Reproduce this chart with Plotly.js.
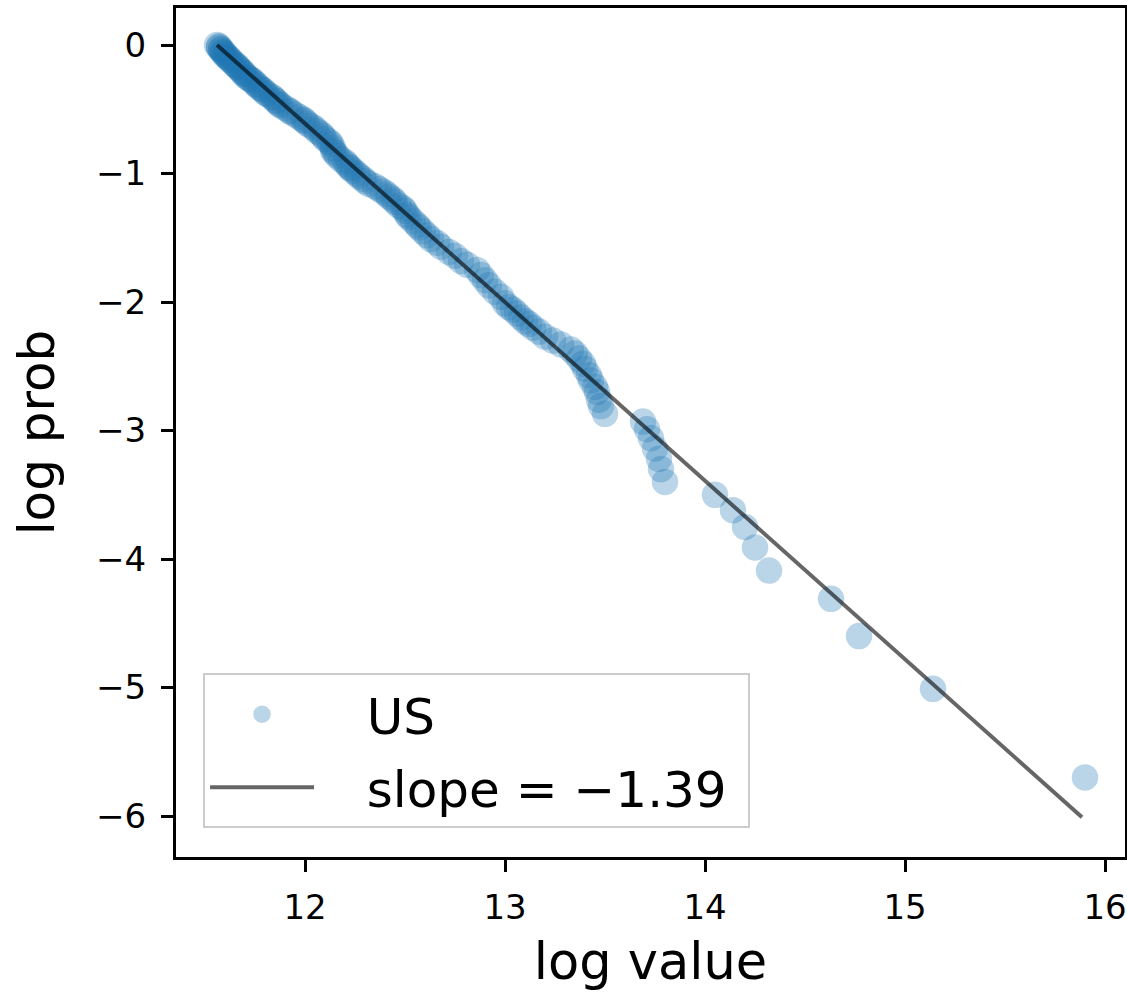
<!DOCTYPE html>
<html>
<head>
<meta charset="utf-8">
<script src="https://cdn.plot.ly/plotly-3.0.1.min.js"></script>
<style>
  html, body { margin: 0; padding: 0; background: #ffffff; }
  #chart { width: 1127px; height: 995px; }
</style>
</head>
<body>
<div id="chart"></div>
<script>
// Tail points (log value vs log complementary probability)
const usLogValue = [
  15.90, 15.14, 14.77, 14.63, 14.32, 14.25, 14.20, 14.14, 14.05,
  13.80, 13.78, 13.77, 13.75, 13.73, 13.71, 13.69,
  13.50, 13.48, 13.47, 13.46, 13.45, 13.43, 13.42, 13.40, 13.39, 13.37, 13.35, 13.33,
  13.28, 13.24, 13.20, 13.17, 13.14, 13.12, 13.10, 13.08, 13.06, 13.04, 13.02, 13.00,
  12.98, 12.95, 12.92, 12.90, 12.88, 12.86, 12.81, 12.78, 12.75, 12.72,
  12.68, 12.66, 12.63, 12.61, 12.59, 12.57, 12.56, 12.54, 12.52, 12.51,
  12.50, 12.49, 12.47, 12.45, 12.44, 12.42, 12.41, 12.39, 12.37, 12.35,
  12.32, 12.30, 12.29, 12.27, 12.26, 12.24, 12.23, 12.22, 12.21, 12.20,
  12.18, 12.16, 12.15, 12.14, 12.14, 12.13, 12.12, 12.10, 12.09, 12.08,
  12.06, 12.05, 12.03, 12.01, 12.00, 11.99, 11.97, 11.95, 11.93, 11.92,
  11.90, 11.88, 11.87, 11.86, 11.85, 11.84, 11.83, 11.81, 11.80, 11.79,
  11.78, 11.77, 11.76, 11.75, 11.74, 11.73, 11.72, 11.71, 11.70, 11.69,
  11.69, 11.68, 11.67, 11.66, 11.66, 11.65, 11.64, 11.63, 11.62, 11.62,
  11.61, 11.60, 11.60, 11.59, 11.59, 11.58, 11.58, 11.57, 11.57, 11.56
];
const usLogProb = [
  -5.70, -5.01, -4.60, -4.31, -4.09, -3.91, -3.75, -3.62, -3.50,
  -3.40, -3.30, -3.22, -3.14, -3.06, -2.99, -2.93,
  -2.87, -2.81, -2.76, -2.70, -2.66, -2.61, -2.57, -2.52, -2.48, -2.44, -2.40, -2.37,
  -2.33, -2.30, -2.27, -2.23, -2.20, -2.17, -2.15, -2.12, -2.09, -2.06, -2.04, -2.01,
  -1.96, -1.92, -1.87, -1.83, -1.79, -1.75, -1.71, -1.68, -1.64, -1.61,
  -1.57, -1.54, -1.51, -1.48, -1.45, -1.42, -1.40, -1.37, -1.34, -1.32,
  -1.29, -1.27, -1.25, -1.22, -1.20, -1.18, -1.16, -1.14, -1.12, -1.10,
  -1.08, -1.06, -1.04, -1.02, -1.00, -0.98, -0.96, -0.95, -0.93, -0.91,
  -0.89, -0.86, -0.84, -0.82, -0.80, -0.77, -0.75, -0.73, -0.71, -0.69,
  -0.67, -0.65, -0.63, -0.61, -0.59, -0.58, -0.56, -0.54, -0.52, -0.51,
  -0.49, -0.47, -0.46, -0.44, -0.43, -0.41, -0.40, -0.38, -0.37, -0.35,
  -0.34, -0.33, -0.31, -0.30, -0.28, -0.27, -0.26, -0.25, -0.23, -0.22,
  -0.21, -0.20, -0.18, -0.17, -0.16, -0.15, -0.14, -0.12, -0.11, -0.10,
  -0.09, -0.08, -0.07, -0.06, -0.05, -0.04, -0.03, -0.02, -0.01, 0.00
];

// Fitted line endpoints
const fitLogValue = [11.56, 15.885];
const fitLogProb = [0.00, -6.01];

const seriesName = "US";
const fitName = "slope = \u22121.39";
const xTickVals = [12, 13, 14, 15, 16];
const yTickVals = [-6, -5, -4, -3, -2, -1, 0];

const FONT = "DejaVu Sans, Liberation Sans, sans-serif";
const PAD = "\u00a0\u00a0\u00a0";

const traces = [
  {
    type: "scatter",
    mode: "markers",
    x: usLogValue,
    y: usLogProb,
    name: PAD + seriesName,
    legendgroup: "a",
    marker: {
      color: "#1f77b4",
      size: 25,
      opacity: 0.3,
      line: { color: "#1f77b4", width: 1.5 }
    },
    hoverinfo: "x+y"
  },
  {
    type: "scatter",
    mode: "lines",
    x: fitLogValue,
    y: fitLogProb,
    name: PAD + fitName + "\u00a0",
    legendgroup: "b",
    line: { color: "rgba(0,0,0,0.6)", width: 4 },
    hoverinfo: "skip"
  }
];

const layout = {
  width: 1127,
  height: 995,
  margin: { l: 176, r: 2, t: 8, b: 138 },
  paper_bgcolor: "#ffffff",
  plot_bgcolor: "#ffffff",
  font: { family: FONT, color: "#000000", size: 34 },
  showlegend: true,
  legend: {
    x: 0.0285, y: 0.034, xanchor: "left", yanchor: "bottom",
    bgcolor: "rgba(255,255,255,0.8)",
    bordercolor: "#cccccc", borderwidth: 2,
    font: { family: FONT, size: 50, color: "#000000" },
    itemwidth: 104,
    traceorder: "grouped",
    tracegroupgap: 5
  },
  xaxis: {
    range: [11.355, 16.1],
    tickvals: xTickVals,
    ticks: "outside", ticklen: 12, tickwidth: 3, tickcolor: "#000000",
    showline: true, linecolor: "#000000", linewidth: 3, mirror: true,
    showgrid: false, zeroline: false,
    tickfont: { family: FONT, size: 34, color: "#000000" },
    ticklabelstandoff: 6,
    title: { text: "log value", font: { family: FONT, size: 51, color: "#000000" }, standoff: 18 }
  },
  yaxis: {
    range: [-6.319, 0.288],
    tickvals: yTickVals,
    ticks: "outside", ticklen: 12, tickwidth: 3, tickcolor: "#000000",
    showline: true, linecolor: "#000000", linewidth: 3, mirror: true,
    showgrid: false, zeroline: false,
    tickfont: { family: FONT, size: 34, color: "#000000" },
    ticklabelstandoff: 8,
    title: { text: "log prob", font: { family: FONT, size: 50, color: "#000000" }, standoff: 26 }
  }
};

Plotly.newPlot("chart", traces, layout, { displayModeBar: false, staticPlot: true });
</script>
</body>
</html>
